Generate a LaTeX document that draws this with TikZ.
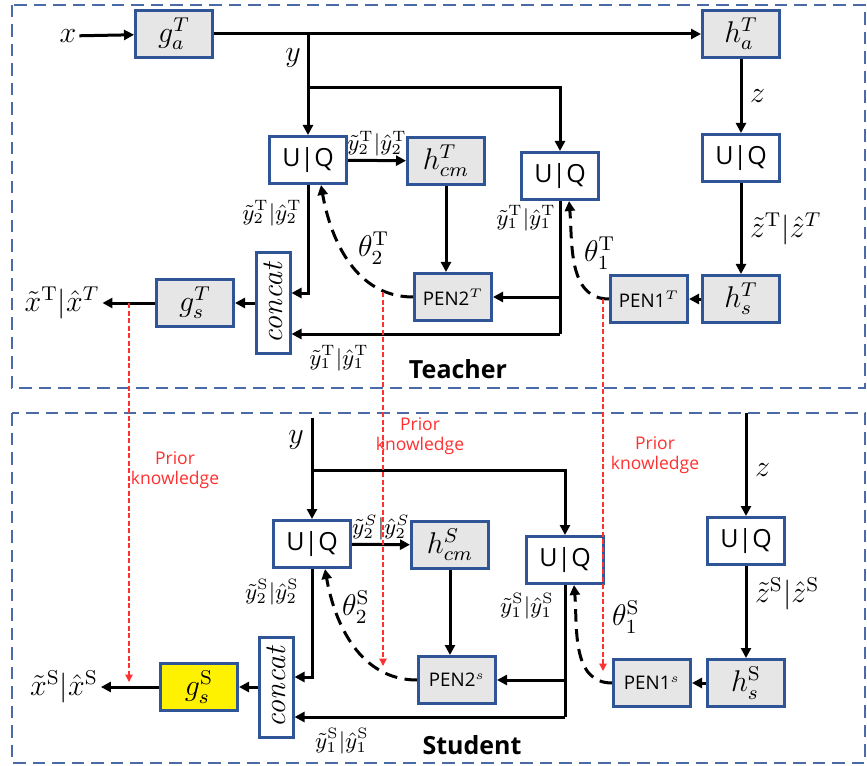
\documentclass[tikz,border=0pt]{standalone}
\usepackage{fontspec}
\setsansfont{Open Sans}
\usepackage{amsmath}
\usetikzlibrary{calc, arrows.meta, positioning}
\definecolor{boxblue}{HTML}{2F5597}
\definecolor{frameblue}{HTML}{4A6BA8}
\definecolor{boxgray}{HTML}{E6E6E6}
\definecolor{priorred}{HTML}{FF3030}

\begin{document}
\begin{tikzpicture}[x=0.4pt, y=-0.4pt,
    blk/.style={draw=boxblue, line width=1.2pt, minimum width=30.8pt, minimum height=18.8pt, inner sep=0pt},
    gblk/.style={blk, fill=boxgray, font=\large},
    uq/.style={blk, fill=white, font=\sffamily},
    pen/.style={blk, fill=boxgray, font=\sffamily\fontsize{7.5}{9}\selectfont},
    cat/.style={blk, fill=white, minimum width=13.6pt, minimum height=40pt, font=\large\itshape},
    flow/.style={line width=1.2pt, -{Triangle[length=4pt,width=4pt]}},
    wire/.style={line width=1.2pt},
    param/.style={line width=1.2pt, dash pattern=on 5pt off 3pt, -{Triangle[length=4pt,width=4pt]}},
    prior/.style={priorred, line width=0.5pt, dash pattern=on 2pt off 1pt, -{Triangle[length=3pt,width=3pt]}},
    frame/.style={frameblue, line width=0.6pt, dash pattern=on 5pt off 2.8pt},
    lbl/.style={inner sep=1pt, font=\small},
    big/.style={inner sep=1pt, font=\large},
    note/.style={priorred, align=center, inner sep=0pt, font=\sffamily\scriptsize}]
      \useasboundingbox (0,0) rectangle (867,766);
      \draw[frame] (12,5) rectangle (865,388);
      \draw[frame] (12,413) rectangle (865,763);

      \node[big] (xin) at (68,36) {$x$};
      \node[gblk] (gaT) at (174,34) {$g_a^T$};
      \node[gblk] (haT) at (741,34) {$h_a^T$};
      \node[uq] (UQaT) at (308,160) {U|Q};
      \node[gblk] (hcmT) at (446,161) {$h_{cm}^T$};
      \node[uq] (UQbT) at (560,176) {U|Q};
      \node[uq] (UQcT) at (741,158) {U|Q};
      \node[gblk] (hsT) at (741,299) {$h_s^T$};
      \node[pen] (PENaT) at (649,299) {PEN1$^{T}$};
      \node[pen] (PENbT) at (453,297) {PEN2$^{T}$};
      \node[cat] (catT) at (273,303) {\rotatebox{90}{concat}};
      \node[gblk] (gsT) at (195,303) {$g_s^T$};
      \node[big] (xoutT) at (62,303) {$\tilde{x}^{\mathrm{T}}|\hat{x}^{T}$};
      \coordinate (yT) at (308,34);
      \coordinate (brT) at (308,88);
      \coordinate (cornT) at (560,334);

      \draw[flow] (xin) -- (gaT);
      \draw[flow] (gaT) -- (haT);
      \draw[flow] (yT) -- (UQaT);
      \draw[flow] (brT) -| (UQbT);
      \draw[flow] (haT) -- node[big, right=2pt] {$z$} (UQcT);
      \draw[flow] (UQcT) -- node[big, right=2pt] {$\tilde{z}^{\mathrm{T}}|\hat{z}^{T}$} (hsT);
      \draw[flow] (hsT) -- (PENaT);
      \draw[param] (PENaT.west) to[out=180, in=-85] node[big, pos=0.6, right=3pt] {$\theta_1^{\mathrm{T}}$} ($(UQbT.south)+(9,0)$);
      \draw[wire] (UQbT) -- (cornT);
      \draw[flow] (cornT) -- (cornT -| catT.east);
      \draw[flow] (UQbT.south |- PENbT.east) -- (PENbT.east);
      \draw[flow] (hcmT) -- (hcmT |- PENbT.north);
      \draw[flow] (UQaT) -- node[lbl, above] {$\tilde{y}_2^{\mathrm{T}}|\hat{y}_2^{\mathrm{T}}$} (hcmT);
      \draw[param] (PENbT.west) to[out=180, in=-80] node[big, pos=0.45, above right=0pt] {$\theta_2^{\mathrm{T}}$} ($(UQaT.south)+(13,0)$);
      \draw[flow] (UQaT) |- ($(catT.east)+(0,-10)$);
      \draw[flow] (catT) -- (gsT);
      \draw[flow] (gsT) -- (xoutT);

      \node[big] at (293,58) {$y$};
      \node[lbl] at (272,213) {$\tilde{y}_2^{\mathrm{T}}|\hat{y}_2^{\mathrm{T}}$};
      \node[lbl] at (526,218) {$\tilde{y}_1^{\mathrm{T}}|\hat{y}_1^{\mathrm{T}}$};
      \node[lbl] at (339,358) {$\tilde{y}_1^{\mathrm{T}}|\hat{y}_1^{\mathrm{T}}$};
      \node[font=\sffamily\bfseries] at (458,369) {Teacher};

      \node[big] at (296,440) {$y$};
      \node[uq] (UQaS) at (312,544) {U|Q};
      \node[gblk] (hcmS) at (450,545) {$h_{cm}^S$};
      \node[uq] (UQbS) at (565,560) {U|Q};
      \node[uq] (UQcS) at (746,541) {U|Q};
      \node[gblk] (hsS) at (746,683) {$h_s^{\mathrm{S}}$};
      \node[pen] (PENaS) at (652,683) {PEN1$^{s}$};
      \node[pen] (PENbS) at (457,680) {PEN2$^{s}$};
      \node[cat] (catS) at (276,687) {\rotatebox{90}{concat}};
      \node[gblk, fill=yellow] (gsS) at (199,687) {$g_s^{\mathrm{S}}$};
      \node[big] (xoutS) at (64,687) {$\tilde{x}^{\mathrm{S}}|\hat{x}^{\mathrm{S}}$};
      \coordinate (ytopS) at (312,418);
      \coordinate (brS) at (312,470);
      \coordinate (ztopS) at (746,413);
      \coordinate (cornS) at (565,717);

      \draw[flow] (ytopS) -- (UQaS);
      \draw[flow] (brS) -| (UQbS);
      \draw[flow] (ztopS) -- node[big, right=2pt, pos=0.55] {$z$} (UQcS);
      \draw[flow] (UQcS) -- node[big, right=2pt, pos=0.3] {$\tilde{z}^{\mathrm{S}}|\hat{z}^{\mathrm{S}}$} (hsS);
      \draw[flow] (hsS) -- (PENaS);
      \draw[param] (PENaS.west) to[out=180, in=-85] ($(UQbS.south)+(9,0)$);
      \draw[wire] (UQbS) -- (cornS);
      \draw[flow] (cornS) -- (cornS -| catS.east);
      \draw[flow] (UQbS.south |- PENbS.east) -- (PENbS.east);
      \draw[flow] (hcmS) -- (hcmS |- PENbS.north);
      \draw[flow] (UQaS) -- node[lbl, above] {$\tilde{y}_2^S|\hat{y}_2^S$} (hcmS);
      \draw[param] (PENbS.west) to[out=180, in=-80] ($(UQaS.south)+(13,0)$);
      \draw[flow] (UQaS) |- ($(catS.east)+(0,-10)$);
      \draw[flow] (catS) -- (gsS);
      \draw[flow] (gsS) -- (xoutS);

      \node[big] at (356,607) {$\theta_2^{\mathrm{S}}$};
      \node[big] at (626,617) {$\theta_1^{\mathrm{S}}$};
      \node[lbl] at (272,592) {$\tilde{y}_2^{\mathrm{S}}|\hat{y}_2^{\mathrm{S}}$};
      \node[lbl] at (527,606) {$\tilde{y}_1^{\mathrm{S}}|\hat{y}_1^{\mathrm{S}}$};
      \node[lbl] at (342,741) {$\tilde{y}_1^{\mathrm{S}}|\hat{y}_1^{\mathrm{S}}$};
      \node[font=\sffamily\bfseries] at (472,745) {Student};

      \coordinate (pkaT) at (129,303);
      \coordinate (pkaS) at (129,682);
      \coordinate (pkbT) at (383,292);
      \coordinate (pkbS) at (383,666);
      \coordinate (pkcT) at (603,299);
      \coordinate (pkcS) at (603,671);
      \draw[prior] (pkaT) -- (pkaS);
      \draw[prior] (pkbT) -- (pkbS);
      \draw[prior] (pkcT) -- (pkcS);
      \node[note] at (175,470) {Prior\\knowledge};
      \node[note] at (420,436) {Prior\\knowledge};
      \node[note] at (655,455) {Prior\\knowledge};
    \end{tikzpicture}
\end{document}
